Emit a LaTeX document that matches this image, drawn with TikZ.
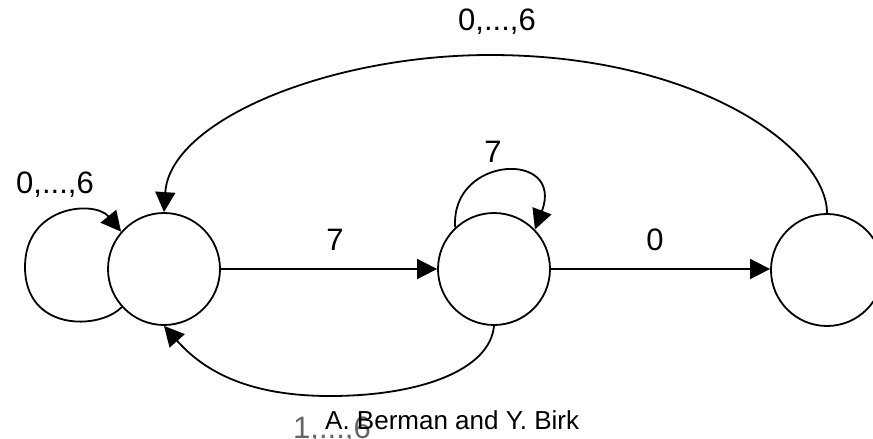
\documentclass[tikz,border=0pt]{standalone}
\usepackage{fontspec}
\setmainfont{Liberation Sans}
\usetikzlibrary{arrows.meta}
\begin{document}
\begin{tikzpicture}[x=1pt,y=-1pt,
  state/.style={draw,circle,line width=1.8pt,minimum size=112pt,inner sep=0pt},
  edge/.style={line width=1.8pt,-{Triangle[length=20pt,width=20pt]}},
  lbl/.style={inner sep=0pt,font=\fontsize{31}{31}\selectfont},
  lblgray/.style={inner sep=0pt,text=black!60,font=\fontsize{31}{31}\selectfont},
  author/.style={inner sep=0pt,anchor=base west,font=\fontsize{26}{26}\selectfont}]
\useasboundingbox (0,0) rectangle (873,439);
\node[state] (A) at (164,269) {};
\node[state] (B) at (494,269) {};
\node[state] (C) at (827,270) {};
% straight transitions
\draw[edge] (A.east) -- (B.west);
\draw[edge] (B.east) -- (B.east -| C.west);
% self loop on A
\coordinate (aleft) at (25,267);
\draw[edge] (A.222) .. controls (100,330) and (25,332) .. (aleft)
  .. controls (25,205) and (95,200) .. (A.139);
% self loop on B
\draw[edge] (B.133) .. controls (450,155) and (565,150) .. (B.44);
% top arc C -> A
\coordinate (peak) at (490,55);
\draw[edge] (C.north) .. controls (827,150) and (700,55) .. (peak)
  .. controls (330,55) and (170,120) .. (A.north);
% bottom arc B -> A
\coordinate (bottom) at (330,396);
\draw[edge] (B.south) .. controls (490,370) and (420,396) .. (bottom)
  .. controls (260,396) and (210,378) .. (A.south);
% labels
\node[lbl] (l1) at (55,185) {0,...,6};
\node[lbl] (l2) at (497,22) {0,...,6};
\node[lbl] (l3) at (335,240) {7};
\node[lbl] (l4) at (655,240) {0};
\node[lbl] (l5) at (493,152) {7};
\node[lblgray] (l6) at (332,430) {1,...,6};
\node[author] (auth) at (325,429) {A. Berman and Y. Birk};
\end{tikzpicture}
\end{document}
